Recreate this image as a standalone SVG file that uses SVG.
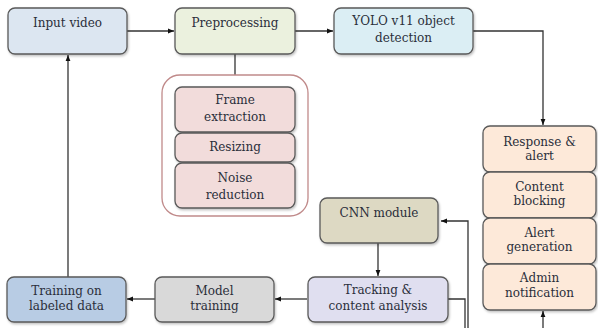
<svg xmlns="http://www.w3.org/2000/svg" width="598" height="328" viewBox="0 0 598 328">
<defs>
<marker id="ah" viewBox="0 0 10 10" refX="10" refY="5" markerWidth="6" markerHeight="6" orient="auto-start-reverse" markerUnits="userSpaceOnUse">
<path d="M0,1 L10,5 L0,9 z" fill="#111"/>
</marker>
<filter id="sh" x="-10%" y="-10%" width="125%" height="130%">
<feDropShadow dx="1" dy="1.5" stdDeviation="1" flood-color="#000" flood-opacity="0.25"/>
</filter>
</defs>
<style>
.b{stroke:#5a5a5a;stroke-width:1.3;filter:url(#sh)}
.t{font-family:"DejaVu Serif","Liberation Serif",serif;font-size:12px;fill:#2a2e3a;text-anchor:middle}
.c{fill:none;stroke:#333;stroke-width:1.3}
</style>
<rect width="598" height="328" fill="#fff"/>
<g id="connectors">
<path class="c" d="M127,31 H174" marker-end="url(#ah)"/>
<path class="c" d="M295,31 H333" marker-end="url(#ah)"/>
<path class="c" d="M235,54 V75"/>
<path class="c" d="M473,31 H543 V125" marker-end="url(#ah)"/>
<path class="c" d="M378,243 V276" marker-end="url(#ah)"/>
<path class="c" d="M307,299 H275" marker-end="url(#ah)"/>
<path class="c" d="M155,299 H127" marker-end="url(#ah)"/>
<path class="c" d="M68,277 V55" marker-end="url(#ah)"/>
<path class="c" d="M448,299 H465 V328"/>
<path class="c" d="M468,328 V221 H441" marker-end="url(#ah)"/>
<path class="c" d="M543,328 V311" marker-end="url(#ah)"/>
</g>
<g id="input-video">
<rect class="b" x="8" y="8" width="119" height="46" rx="7" fill="#dce6f1"/>
<text class="t" x="67.5" y="27">Input video</text>
</g>
<g id="preprocessing">
<rect class="b" x="175" y="8" width="120" height="46" rx="7" fill="#ebf1de"/>
<text class="t" x="235" y="27">Preprocessing</text>
</g>
<g id="yolo">
<rect class="b" x="334" y="8" width="139" height="46" rx="7" fill="#dbeef4"/>
<text class="t" x="403.5" y="25">YOLO v11 object</text>
<text class="t" x="403.5" y="42">detection</text>
</g>
<g id="preprocessing-steps">
<rect x="162" y="75" width="146" height="141" rx="18" fill="#fff" stroke="#c08a8a" stroke-width="1.3"/>
<g id="frame-extraction">
<rect class="b" x="175" y="87" width="120" height="45" rx="7" fill="#f2dcdb"/>
<text class="t" x="235" y="104">Frame</text>
<text class="t" x="235" y="121">extraction</text>
</g>
<g id="resizing">
<rect class="b" x="175" y="133" width="120" height="29" rx="7" fill="#f2dcdb"/>
<text class="t" x="235" y="151">Resizing</text>
</g>
<g id="noise-reduction">
<rect class="b" x="175" y="163" width="120" height="45" rx="7" fill="#f2dcdb"/>
<text class="t" x="235" y="182">Noise</text>
<text class="t" x="235" y="199">reduction</text>
</g>
</g>
<g id="response-alert">
<rect class="b" x="483" y="126" width="113" height="46" rx="7" fill="#fde9d9"/>
<text class="t" x="539.5" y="146">Response &amp;</text>
<text class="t" x="539.5" y="160">alert</text>
</g>
<g id="content-blocking">
<rect class="b" x="483" y="172" width="113" height="46" rx="7" fill="#fde9d9"/>
<text class="t" x="539.5" y="191">Content</text>
<text class="t" x="539.5" y="205">blocking</text>
</g>
<g id="alert-generation">
<rect class="b" x="483" y="218" width="113" height="46" rx="7" fill="#fde9d9"/>
<text class="t" x="539.5" y="237">Alert</text>
<text class="t" x="539.5" y="251">generation</text>
</g>
<g id="admin-notification">
<rect class="b" x="483" y="264" width="113" height="46" rx="7" fill="#fde9d9"/>
<text class="t" x="539.5" y="282">Admin</text>
<text class="t" x="539.5" y="297">notification</text>
</g>
<g id="cnn-module">
<rect class="b" x="320" y="198" width="118" height="45" rx="7" fill="#ddd9c3"/>
<text class="t" x="379" y="217">CNN module</text>
</g>
<g id="tracking">
<rect class="b" x="308" y="277" width="140" height="45" rx="7" fill="#e0dff0"/>
<text class="t" x="378" y="294">Tracking &amp;</text>
<text class="t" x="378" y="310">content analysis</text>
</g>
<g id="model-training">
<rect class="b" x="155" y="277" width="119" height="45" rx="7" fill="#d9d9d9"/>
<text class="t" x="214.5" y="295">Model</text>
<text class="t" x="214.5" y="310">training</text>
</g>
<g id="training-labeled">
<rect class="b" x="7" y="277" width="119" height="45" rx="7" fill="#b8cce4"/>
<text class="t" x="66.5" y="295">Training on</text>
<text class="t" x="66.5" y="310">labeled data</text>
</g>
</svg>
